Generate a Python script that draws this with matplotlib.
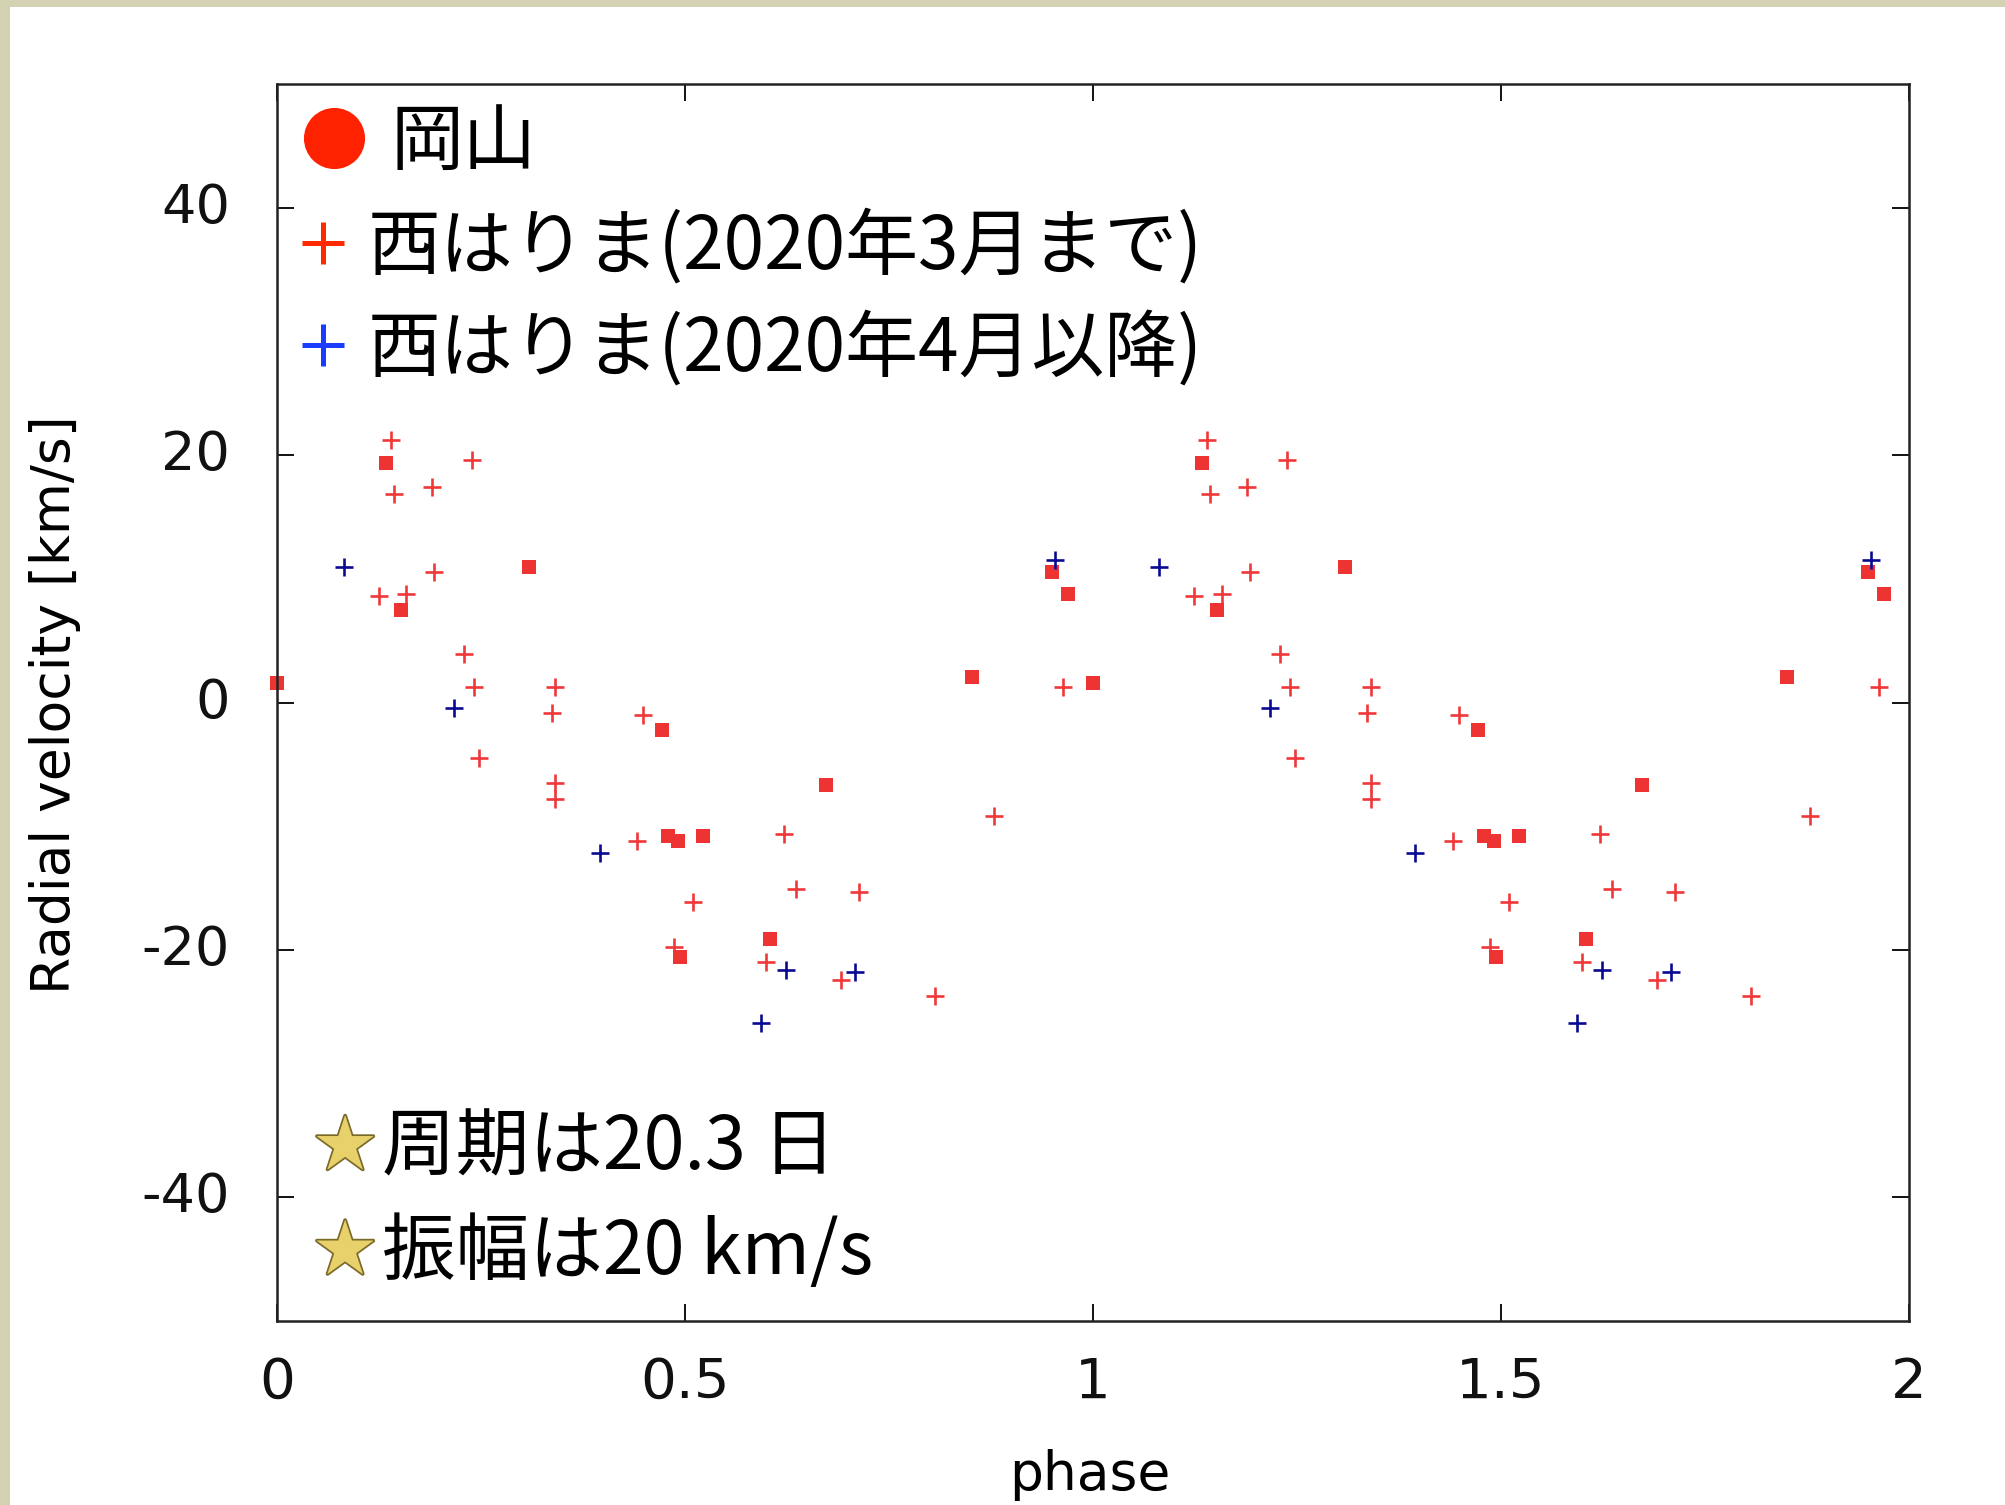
"""Radial velocity phase plot (Okayama / Nishiharima), matplotlib Agg."""

import matplotlib

matplotlib.use("Agg")
import matplotlib.patheffects as pe
import matplotlib.pyplot as plt
import numpy as np
from matplotlib.font_manager import FontProperties
from matplotlib.lines import Line2D
from matplotlib.patches import Rectangle

# phase (0..1) and radial velocity [km/s]
okayama_phase = [0.000, 0.133, 0.152, 0.309, 0.472, 0.479, 0.491, 0.494,
                 0.522, 0.604, 0.673, 0.851, 0.950, 0.969]
okayama_rv = [1.6, 19.4, 7.5, 11.0, -2.2, -10.8, -11.2, -20.6,
              -10.8, -19.1, -6.7, 2.1, 10.6, 8.8]

nh_early_phase = [0.124, 0.139, 0.143, 0.158, 0.189, 0.192, 0.229, 0.238,
                  0.241, 0.247, 0.336, 0.340, 0.340, 0.340, 0.441, 0.448,
                  0.486, 0.510, 0.599, 0.621, 0.636, 0.691, 0.713, 0.806,
                  0.879, 0.963]
nh_early_rv = [8.6, 21.2, 16.9, 8.8, 17.4, 10.6, 3.9, 19.6,
               1.3, -4.5, -0.8, 1.3, -6.5, -7.8, -11.2, -1.0,
               -19.8, -16.1, -21.0, -10.6, -15.1, -22.4, -15.3, -23.7,
               -9.2, 1.3]

nh_late_phase = [0.081, 0.217, 0.395, 0.593, 0.624, 0.708, 0.953]
nh_late_rv = [11.0, -0.4, -12.2, -25.9, -21.6, -21.8, 11.5]

legend_labels = ["岡山", "西はりま(2020年3月まで)", "西はりま(2020年4月以降)"]
notes = ["周期は20.3 日", "振幅は20 km/s"]

x_ticks = [0, 0.5, 1, 1.5, 2]
x_ticklabels = ["0", "0.5", "1", "1.5", "2"]
y_ticks = [-40, -20, 0, 20, 40]

CJK = ["Noto Sans CJK JP", "DejaVu Sans"]


def two_cycles(phase, rv):
    # phase-folded data is shown twice: phase and phase + 1
    p = np.asarray(phase, dtype=float)
    v = np.asarray(rv, dtype=float)
    return np.concatenate([p, p + 1.0]), np.concatenate([v, v])


plt.rcParams["font.family"] = "DejaVu Sans"
plt.rcParams["axes.unicode_minus"] = False

fig = plt.figure(figsize=(20.06, 15.05), dpi=100, facecolor="#d4d2b2")
fig.add_artist(Rectangle((0.005, 0.0), 1.0, 0.9953, transform=fig.transFigure,
                         facecolor="white", edgecolor="none", zorder=0))

ax = fig.add_axes([0.1383, 0.1223, 0.8133, 0.8217])
ax.set_facecolor("white")

px, pv = two_cycles(nh_early_phase, nh_early_rv)
ax.plot(px, pv, ls="none", marker="+", ms=13.5, mew=1.9, color="#f03838", clip_on=False)

px, pv = two_cycles(okayama_phase, okayama_rv)
ax.plot(px, pv, ls="none", marker="s", ms=10, mew=0, color="#ee3333", clip_on=False)

px, pv = two_cycles(nh_late_phase, nh_late_rv)
ax.plot(px, pv, ls="none", marker="+", ms=13.5, mew=1.9, color="#0a0a90", clip_on=False)

ax.set_xlim(0, 2)
ax.set_ylim(-50, 50)
ax.set_xticks(x_ticks)
ax.set_xticklabels(x_ticklabels)
ax.set_yticks(y_ticks)
ax.tick_params(direction="in", length=12, width=1.4, top=True, right=True,
               colors="#111111")
ax.tick_params(axis="y", pad=34, labelsize=39)
ax.tick_params(axis="x", pad=25, labelsize=40.5)
for lab in ax.get_yticklabels():
    lab.set_verticalalignment("center")
for sp in ax.spines.values():
    sp.set_linewidth(1.8)
    sp.set_color("#222222")

ax.set_xlabel("phase", fontsize=38.5)
ax.set_ylabel("Radial velocity [km/s]", fontsize=38.5)
ax.xaxis.set_label_coords(0.498, -0.1035)
ax.yaxis.set_label_coords(-0.1204, 0.498)

# legend (two blocks so the marker columns can sit like the original overlay)
leg_font = FontProperties(family=CJK, size=52.5)
h_ok = Line2D([], [], ls="none", marker="o", ms=44, color="#ff2200", mec="none")
h_early = Line2D([], [], ls="none", marker="+", ms=30, mew=3.6, color="#ff2a00")
h_late = Line2D([], [], ls="none", marker="+", ms=30, mew=3.6, color="#1a3cff")

leg1 = ax.legend([h_ok], legend_labels[:1], loc="center left",
                 bbox_to_anchor=(0.0067, 0.9527), frameon=False, prop=leg_font,
                 handlelength=1.25, handletextpad=0.145, borderpad=0,
                 borderaxespad=0)
ax.add_artist(leg1)
ax.legend([h_early, h_late], legend_labels[1:], loc="center left",
          bbox_to_anchor=(0.0064, 0.8267), frameon=False, prop=leg_font,
          handlelength=0.95, handletextpad=0.15, labelspacing=0.354,
          borderpad=0, borderaxespad=0)

# notes with a golden star in front
for note, y in zip(notes, [0.1395, 0.055]):
    ax.text(0.0415, y, "★", transform=ax.transAxes, ha="center", va="center",
            fontsize=44, family=CJK, color="#e8d06a",
            path_effects=[pe.withStroke(linewidth=2.5, foreground="#7a6a2a")])
    ax.text(0.064, y, note, transform=ax.transAxes, ha="left", va="center",
            fontsize=53, family=CJK, color="black")

fig.savefig("out.png", dpi=100, facecolor=fig.get_facecolor())
plt.close(fig)
